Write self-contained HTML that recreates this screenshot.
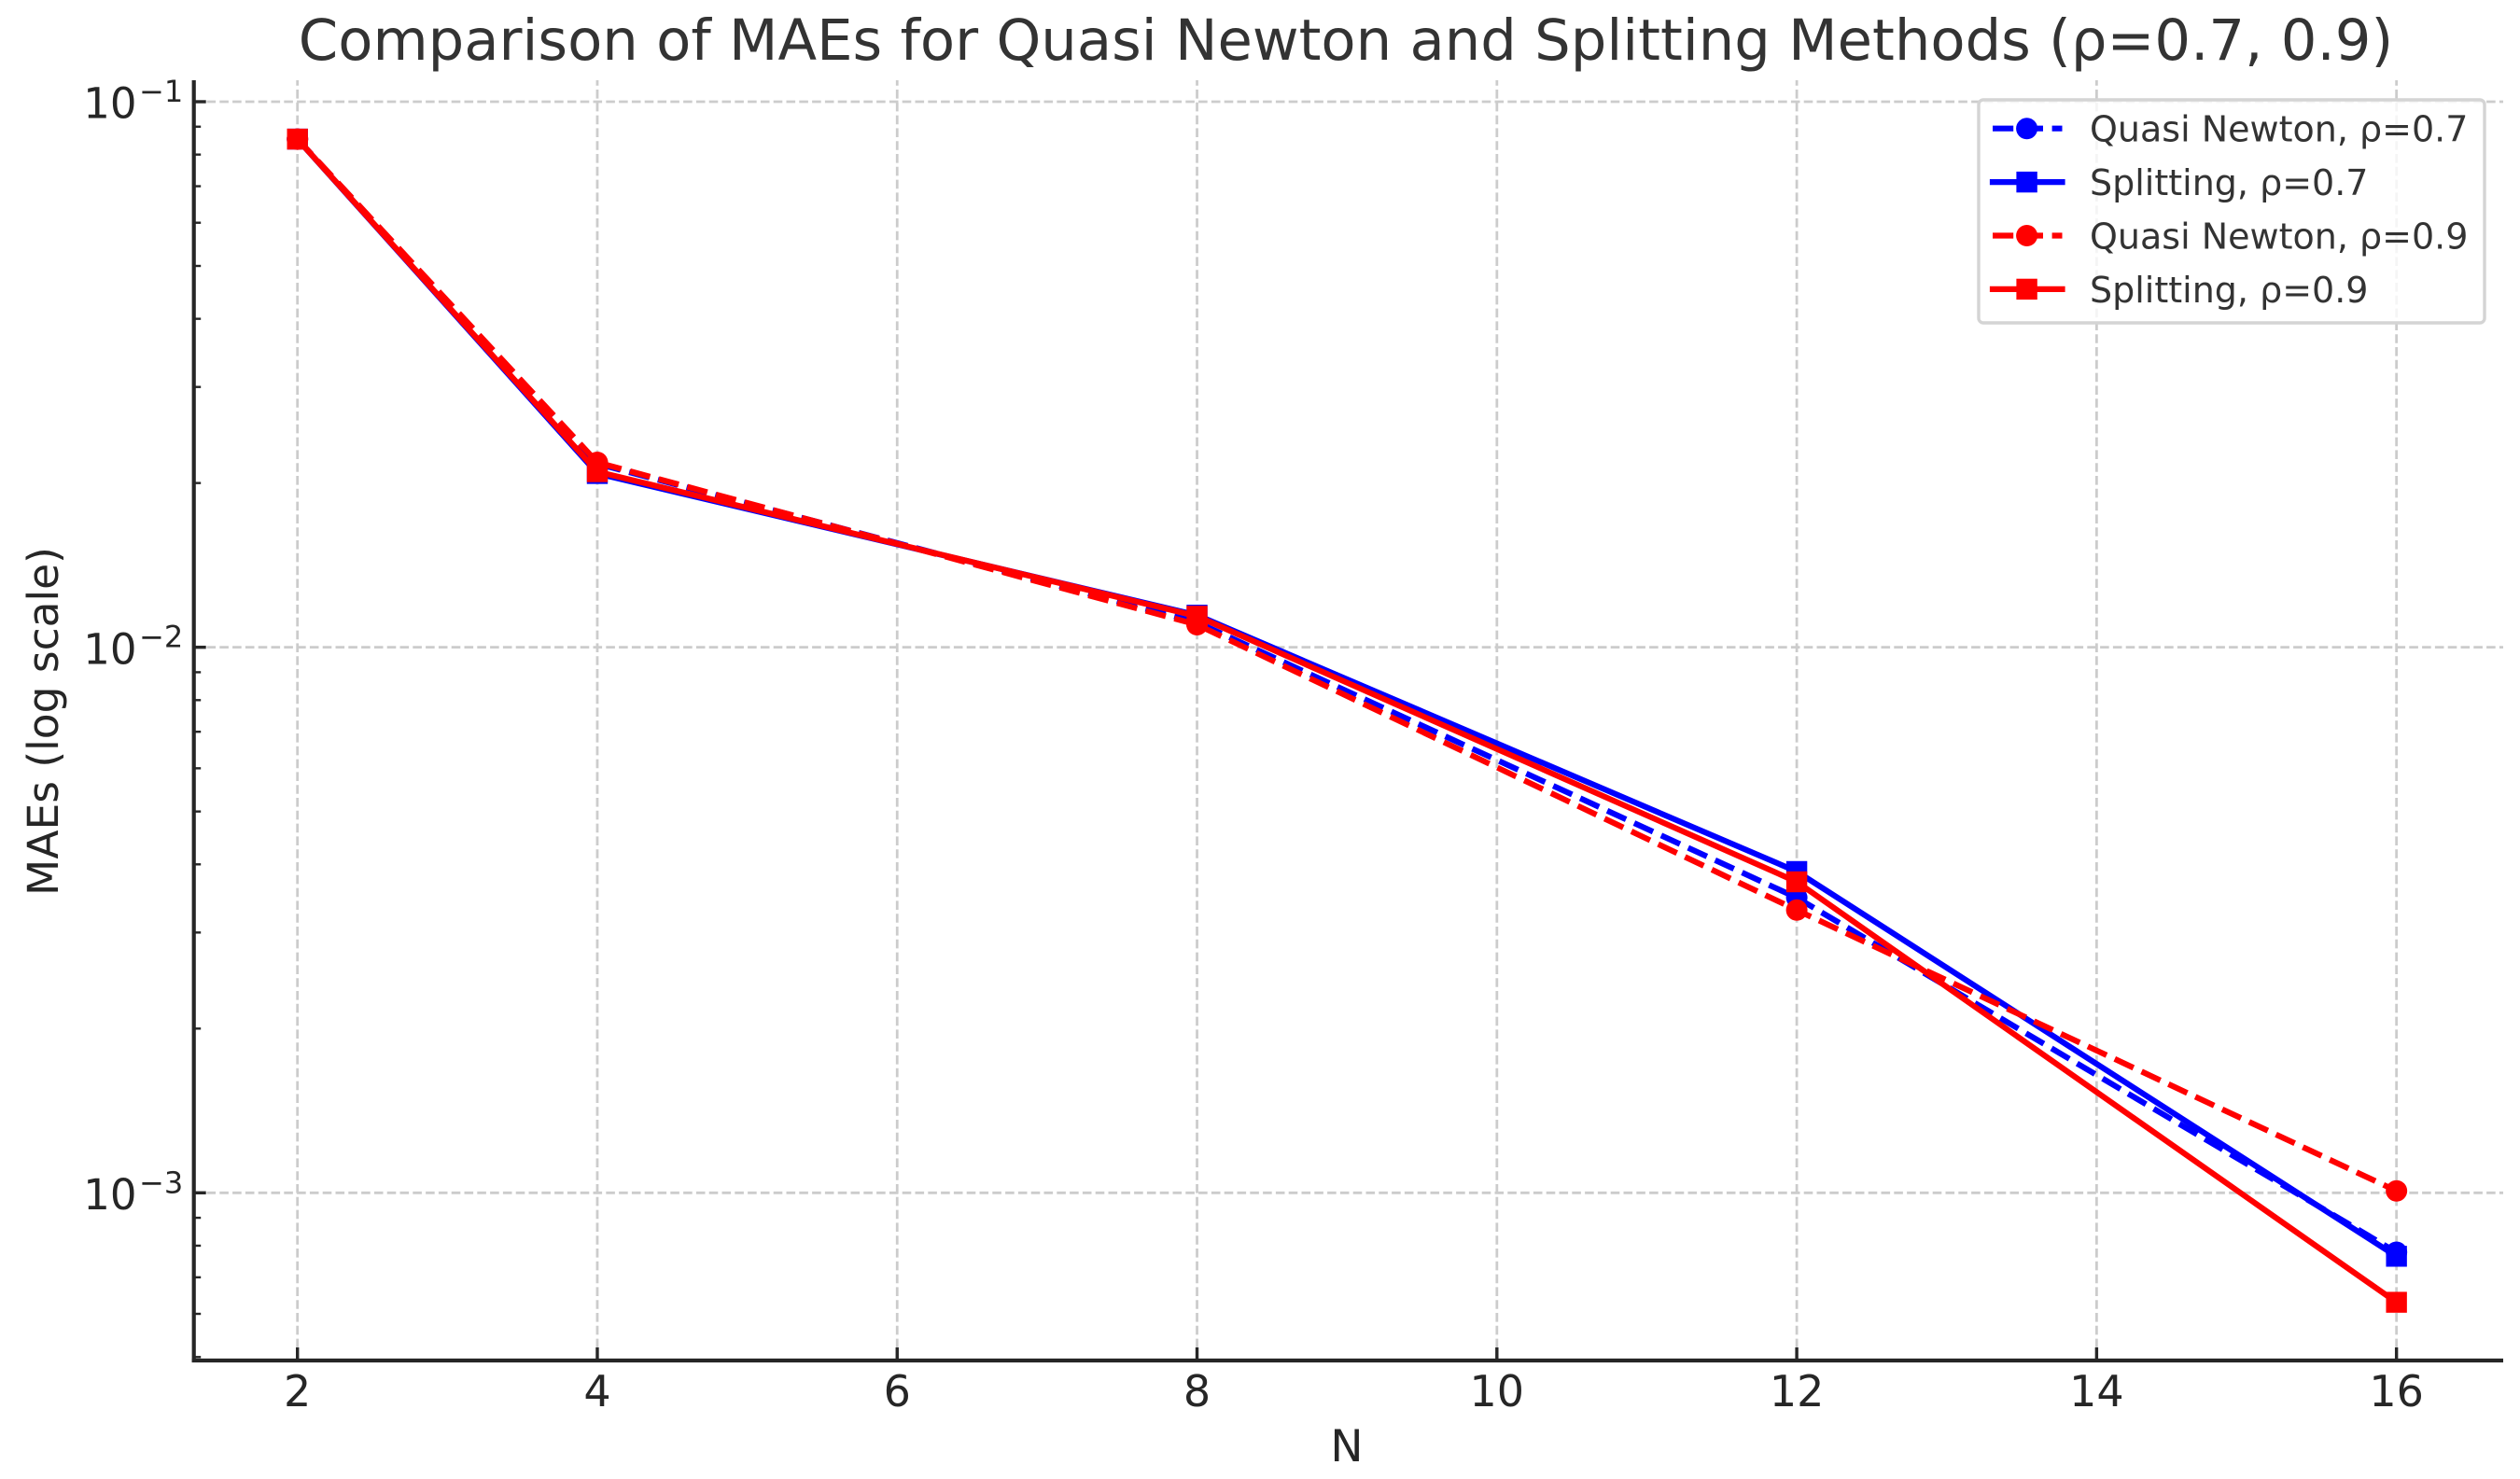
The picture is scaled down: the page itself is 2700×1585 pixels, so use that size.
<!DOCTYPE html>
<html lang="en">
<head>
<meta charset="utf-8">
<title>Comparison of MAEs for Quasi Newton and Splitting Methods</title>
<style>
html,body{margin:0;padding:0;background:#fff;width:2700px;height:1585px;overflow:hidden}
svg{display:block}
text{font-family:"DejaVu Sans","Liberation Sans",sans-serif}
</style>
</head>
<body>
<svg id="chart" xmlns="http://www.w3.org/2000/svg" width="2700" height="1585" viewBox="0 0 2700 1585">
<rect x="0" y="0" width="2700" height="1585" fill="#fff"/>
<g id="grid"></g>
<g id="series"></g>
<g id="axes"></g>
<text x="1442" y="64" font-size="60.8" fill="#333" text-anchor="middle">Comparison of MAEs for Quasi Newton and Splitting Methods (ρ=0.7, 0.9)</text>
<text x="1443" y="1566" font-size="47" fill="#262626" text-anchor="middle">N</text>
<text transform="translate(62 773) rotate(-90)" font-size="45.5" fill="#262626" text-anchor="middle">MAEs (log scale)</text>
<g id="legend"></g>
</svg>
<script>
const categories = [2, 4, 8, 12, 16];
const quasiNewton07 = [0.0854, 0.0217, 0.01111, 0.003475, 0.000778];
const splitting07 = [0.0854, 0.02082, 0.01145, 0.003881, 0.000765];
const quasiNewton09 = [0.0854, 0.02182, 0.0110, 0.003298, 0.001008];
const splitting09 = [0.0854, 0.02098, 0.0114, 0.003716, 0.00063];
const xTicks = [2, 4, 6, 8, 10, 12, 14, 16];
const yMajorTicks = [0.1, 0.01, 0.001];
const yMajorExponents = ["−1", "−2", "−3"];
const yMinorTicks = [0.09, 0.08, 0.07, 0.06, 0.05, 0.04, 0.03, 0.02, 0.009, 0.008, 0.007, 0.006, 0.005, 0.004, 0.003, 0.002, 0.0009, 0.0008, 0.0007, 0.0006, 0.0005];
const seriesLabels = ["Quasi Newton, ρ=0.7", "Splitting, ρ=0.7", "Quasi Newton, ρ=0.9", "Splitting, ρ=0.9"];

const NS = 'http://www.w3.org/2000/svg';
const LEFT = 207.7, RIGHT = 2682, TOP = 86, BOTTOM = 1458;
const xScale = n => 318.7 + (n - 2) * 160.64;
const yScale = v => 109 + (-1 - Math.log10(v)) * 584.65;

function make(parent, tag, attrs, text) {
  const el = document.createElementNS(NS, tag);
  for (const k in attrs) el.setAttribute(k, attrs[k]);
  if (text !== undefined) el.textContent = text;
  parent.appendChild(el);
  return el;
}
const grid = document.getElementById('grid');
const axes = document.getElementById('axes');
const seriesG = document.getElementById('series');
const legend = document.getElementById('legend');
const gridStyle = {stroke: '#cccccc', 'stroke-width': 2.8, 'stroke-dasharray': '9.6 4.2', fill: 'none'};

xTicks.forEach(t => {
  const x = xScale(t);
  const g = make(grid, 'line', Object.assign({x1: x, x2: x, y1: BOTTOM, y2: TOP}, gridStyle));
  
  
  const tick = make(axes, 'line', {x1: x, x2: x, y1: BOTTOM, y2: BOTTOM - 14, stroke: '#262626', 'stroke-width': 3.4});
  
  
  const label = make(axes, 'text', {x: x, y: 1507, 'font-size': 46, fill: '#262626', 'text-anchor': 'middle'}, String(t));
  
  
});

yMajorTicks.forEach((t, i) => {
  const y = yScale(t);
  const g = make(grid, 'line', Object.assign({x1: LEFT, x2: RIGHT, y1: y, y2: y}, gridStyle));
  
  
  const tick = make(axes, 'line', {x1: LEFT, x2: LEFT + 13, y1: y, y2: y, stroke: '#262626', 'stroke-width': 3.4});
  
  
  const base = make(axes, 'text', {x: 146.5, y: y + 17.7, 'font-size': 45, fill: '#262626', 'text-anchor': 'end'}, '10');
  
  
  const exp = make(axes, 'text', {x: 149, y: y, 'font-size': 32, fill: '#262626', 'text-anchor': 'start'}, yMajorExponents[i]);
  
  
});

yMinorTicks.forEach(t => {
  const y = yScale(t);
  const tick = make(axes, 'line', {x1: LEFT, x2: LEFT + 7.5, y1: y, y2: y, stroke: '#262626', 'stroke-width': 2.4});
  
  
});

const leftSpine = make(axes, 'line', {x1: LEFT, x2: LEFT, y1: TOP, y2: BOTTOM + 2, stroke: '#262626', 'stroke-width': 4.2});


const bottomSpine = make(axes, 'line', {x1: LEFT - 2, x2: RIGHT, y1: BOTTOM, y2: BOTTOM, stroke: '#262626', 'stroke-width': 4.2});



function drawMarker(parent, kind, x, y, color) {
  if (kind === 'circle') return make(parent, 'circle', {cx: x, cy: y, r: 11.5, fill: color});
  return make(parent, 'rect', {x: x - 11.2, y: y - 11.2, width: 22.4, height: 22.4, fill: color});
}
function lineAttrs(color, dashed) {
  const a = {fill: 'none', stroke: color, 'stroke-width': 6.2, 'stroke-linejoin': 'round'};
  if (dashed) { a['stroke-dasharray'] = '22.2 9.6'; a['stroke-linecap'] = 'butt'; }
  else { a['stroke-linecap'] = 'square'; }
  return a;
}

const seriesDefs = [
  {values: quasiNewton07, color: '#0000ff', dashed: true, marker: 'circle'},
  {values: splitting07, color: '#0000ff', dashed: false, marker: 'square'},
  {values: quasiNewton09, color: '#ff0000', dashed: true, marker: 'circle'},
  {values: splitting09, color: '#ff0000', dashed: false, marker: 'square'}
];

seriesDefs.forEach(s => {
  const g = make(seriesG, 'g', {});
  
  
  const pts = s.values.map((v, i) => xScale(categories[i]) + ',' + yScale(v)).join(' ');
  const line = make(g, 'polyline', Object.assign({points: pts}, lineAttrs(s.color, s.dashed)));
  
  
  s.values.forEach((v, i) => {
    const m = drawMarker(g, s.marker, xScale(categories[i]), yScale(v), s.color);
    
    
  });
});

const frame = make(legend, 'rect', {x: 2120, y: 107, width: 542, height: 239, rx: 5, ry: 5, fill: '#fff', 'fill-opacity': 0.8, stroke: '#d4d4d4', 'stroke-width': 3.4});


seriesDefs.forEach((s, i) => {
  const y = 137.7 + i * 57.4;
  const g = make(legend, 'g', {});
  
  
  const h = make(g, 'line', Object.assign({x1: 2135, x2: 2209.5, y1: y, y2: y}, lineAttrs(s.color, s.dashed)));
  
  
  const m = drawMarker(g, s.marker, 2171.6, y, s.color);
  
  
  const t = make(g, 'text', {x: 2239, y: y + 14, 'font-size': 38, fill: '#333'}, seriesLabels[i]);
  
  
});
</script>
</body>
</html>
